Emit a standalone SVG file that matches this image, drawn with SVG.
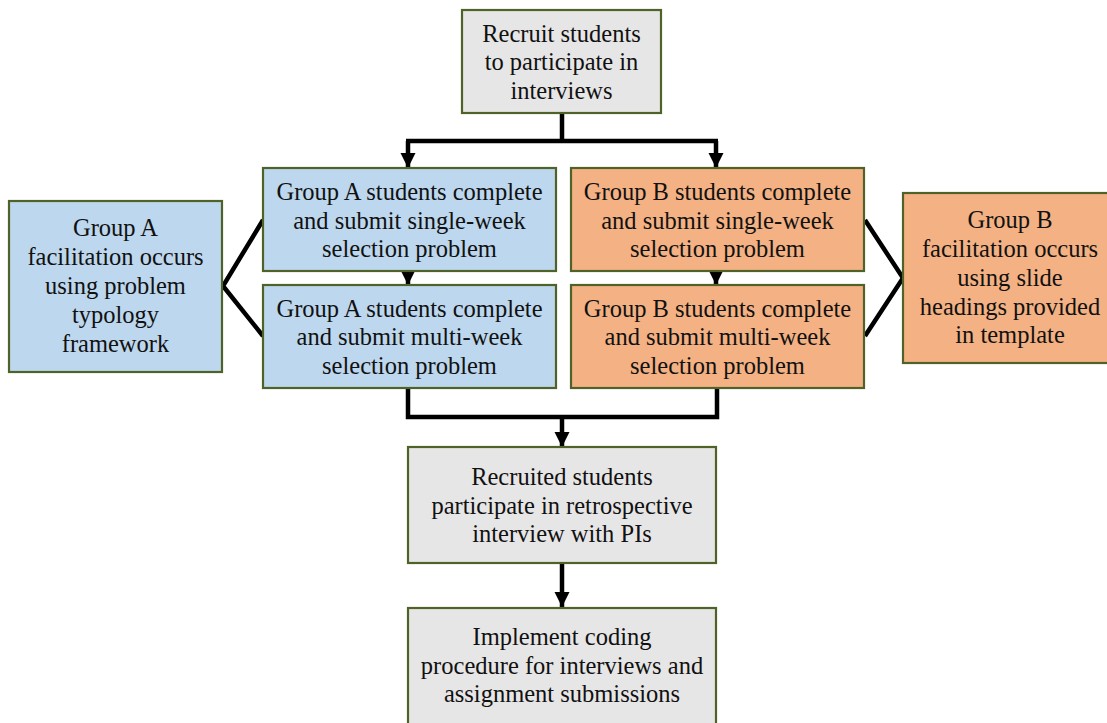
<svg xmlns="http://www.w3.org/2000/svg" width="1107" height="723" viewBox="0 0 1107 723">
<style>
.box{stroke:#4f6228;stroke-width:2.2}
.grey{fill:#e7e6e6}
.blue{fill:#bdd7ee}
.orange{fill:#f4b183}
.t{font-family:"Liberation Serif","Times New Roman",serif;font-size:24.5px;fill:#111;text-anchor:middle}
.c{fill:none;stroke:#000;stroke-width:4.5}
</style>
<defs>
<marker id="ah" markerUnits="userSpaceOnUse" markerWidth="18" markerHeight="18" viewBox="0 0 18 18" refX="16" refY="9" orient="auto">
<path d="M1,1.5 L16,9 L1,16.5 Z" fill="#000"/>
</marker>
</defs>
<g id="connectors">
<path class="c" d="M562,113 V141 M406,141 H718"/>
<path class="c" d="M408,141 V168" marker-end="url(#ah)"/>
<path class="c" d="M716,141 V168" marker-end="url(#ah)"/>
<path class="c" d="M408,271 V285" marker-end="url(#ah)"/>
<path class="c" d="M716,271 V285" marker-end="url(#ah)"/>
<path class="c" d="M408,388 V417 H717 V388"/>
<path class="c" d="M562,417 V447" marker-end="url(#ah)"/>
<path class="c" d="M562,563 V607" marker-end="url(#ah)"/>
<path class="c" d="M263,220 L223,286 L263,336"/>
<path class="c" d="M865,220 L903,278 L865,336"/>
</g>
<g id="recruit">
<rect class="box grey" x="462" y="10" width="199" height="103"/>
<text class="t" x="561.5" y="41.5">Recruit students</text>
<text class="t" x="561.5" y="70">to participate in</text>
<text class="t" x="561.5" y="98.5">interviews</text>
</g>
<g id="a-single">
<rect class="box blue" x="263" y="168" width="293" height="103"/>
<text class="t" x="409.5" y="200">Group A students complete</text>
<text class="t" x="409.5" y="228.5">and submit single-week</text>
<text class="t" x="409.5" y="257">selection problem</text>
</g>
<g id="a-multi">
<rect class="box blue" x="263" y="285" width="293" height="103"/>
<text class="t" x="409.5" y="316.5">Group A students complete</text>
<text class="t" x="409.5" y="345">and submit multi-week</text>
<text class="t" x="409.5" y="373.5">selection problem</text>
</g>
<g id="b-single">
<rect class="box orange" x="571" y="168" width="293" height="103"/>
<text class="t" x="717.5" y="200">Group B students complete</text>
<text class="t" x="717.5" y="228.5">and submit single-week</text>
<text class="t" x="717.5" y="257">selection problem</text>
</g>
<g id="b-multi">
<rect class="box orange" x="571" y="285" width="293" height="103"/>
<text class="t" x="717.5" y="316.5">Group B students complete</text>
<text class="t" x="717.5" y="345">and submit multi-week</text>
<text class="t" x="717.5" y="373.5">selection problem</text>
</g>
<g id="a-facilitation">
<rect class="box blue" x="9" y="201" width="213" height="171"/>
<text class="t" x="115.5" y="236">Group A</text>
<text class="t" x="115.5" y="265">facilitation occurs</text>
<text class="t" x="115.5" y="294">using problem</text>
<text class="t" x="115.5" y="323">typology</text>
<text class="t" x="115.5" y="352">framework</text>
</g>
<g id="b-facilitation">
<rect class="box orange" x="903" y="193" width="214" height="170"/>
<text class="t" x="1010" y="228">Group B</text>
<text class="t" x="1010" y="257">facilitation occurs</text>
<text class="t" x="1010" y="286">using slide</text>
<text class="t" x="1010" y="314.5">headings provided</text>
<text class="t" x="1010" y="343">in template</text>
</g>
<g id="interview">
<rect class="box grey" x="408" y="447" width="308" height="116"/>
<text class="t" x="562" y="485">Recruited students</text>
<text class="t" x="562" y="513.5">participate in retrospective</text>
<text class="t" x="562" y="542">interview with PIs</text>
</g>
<g id="coding">
<rect class="box grey" x="408" y="608" width="308" height="118"/>
<text class="t" x="562" y="645">Implement coding</text>
<text class="t" x="562" y="673.5">procedure for interviews and</text>
<text class="t" x="562" y="702">assignment submissions</text>
</g>
</svg>
